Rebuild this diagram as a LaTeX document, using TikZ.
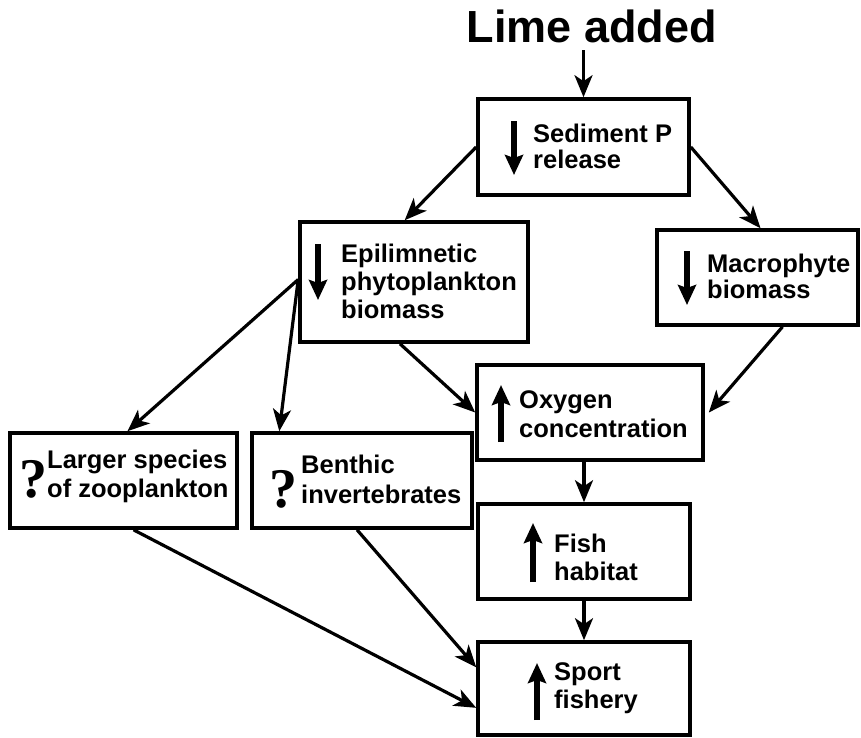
\documentclass[tikz,border=0pt]{standalone}
\usepackage{fontspec}
\setmainfont{Liberation Sans}
\newfontfamily\qfont{Liberation Serif}
\usetikzlibrary{arrows.meta,calc}
\begin{document}
\begin{tikzpicture}[x=1pt,y=-1pt,
  box/.style={draw, line width=3.6pt, inner sep=0pt},
  conn/.style={line width=3.2pt, -{Stealth[length=22pt,width=18pt,inset=6pt]}},
  ind/.style={line width=6pt, -{Stealth[length=20pt,width=18pt,inset=3pt]}},
  lbl/.style={anchor=base west, inner sep=0pt, font=\fontsize{25.5}{28}\selectfont\bfseries},
  qm/.style={anchor=base west, inner sep=0pt, font=\fontsize{56}{56}\selectfont\qfont\bfseries}]
\useasboundingbox (0,0) rectangle (861,737);
\fill[white] (0,0) rectangle (861,737);
% title
\node[anchor=base, inner sep=0pt, font=\fontsize{45}{48}\selectfont\bfseries] (title) at (592,42) {Lime added};
% boxes
\node[box, minimum width=211pt, minimum height=96pt] (sed) at (583.5,147) {};
\node[box, minimum width=228pt, minimum height=120pt] (epi) at (414,282) {};
\node[box, minimum width=201pt, minimum height=95pt] (mac) at (757.5,277.5) {};
\node[box, minimum width=227pt, minimum height=95pt] (lar) at (123.5,480.5) {};
\node[box, minimum width=220pt, minimum height=95pt] (ben) at (362,480.5) {};
\node[box, minimum width=226pt, minimum height=95pt] (oxy) at (590,412.5) {};
\node[box, minimum width=212pt, minimum height=95pt] (fish) at (584,551.5) {};
\node[box, minimum width=212pt, minimum height=93pt] (sport) at (584,688.5) {};
% texts
\node[lbl] (sedA) at (533,142) {Sediment P};
\node[lbl] (sedB) at (533,168) {release};
\node[lbl] (epiA) at (341,262) {Epilimnetic};
\node[lbl] (epiB) at (341,290) {phytoplankton};
\node[lbl] (epiC) at (341,318) {biomass};
\node[lbl] (macA) at (707,272) {Macrophyte};
\node[lbl] (macB) at (707,298) {biomass};
\node[qm] (larQ) at (19,497) {?};
\node[lbl] (larA) at (47,468) {Larger species};
\node[lbl] (larB) at (47,497) {of zooplankton};
\node[qm] (benQ) at (269,507) {?};
\node[lbl] (benA) at (301,473) {Benthic};
\node[lbl] (benB) at (301,503) {invertebrates};
\node[lbl] (oxyA) at (519,408) {Oxygen};
\node[lbl] (oxyB) at (519,437) {concentration};
\node[lbl] (fishA) at (554,552) {Fish};
\node[lbl] (fishB) at (554,580) {habitat};
\node[lbl] (sportA) at (554,680) {Sport};
\node[lbl] (sportB) at (554,708) {fishery};
% indicator arrows
\draw[ind] (514,121) -- (514,175);
\draw[ind] (318,244) -- (318,300);
\draw[ind] (687,251) -- (687,305);
\draw[ind] (501,442) -- (501,385);
\draw[ind] (533,582) -- (533,523);
\draw[ind] (537,720) -- (537,663);
% connectors
\draw[conn] ($(title.base -| sed.north)+(0,8)$) -- (sed.north);
\draw[conn] (sed.west) -- ($(epi.north west)!0.46!(epi.north east)$);
\draw[conn] (sed.east) -- ($(mac.north)+(3,0)$);
\coordinate (epiL) at ($(epi.north west)!0.48!(epi.south west)$);
\draw[conn] (epiL) -- ($(lar.north)+(4,0)$);
\draw[conn] (epiL) -- ($(ben.north west)!0.13!(ben.north east)$);
\draw[conn] ($(epi.south)+(-14,0)$) -- (oxy.west);
\draw[conn] ($(mac.south)+(25,0)$) -- ($(oxy.east)+(4,0)$);
\draw[conn] (oxy.south -| fish.north) -- (fish.north);
\draw[conn] (fish.south) -- (sport.north);
\draw[conn] ($(lar.south)+(10,0)$) -- ($(sport.north west)!0.7!(sport.south west)$);
\draw[conn] ($(ben.south)+(-5,0)$) -- ($(sport.north west)!0.28!(sport.south west)$);
\end{tikzpicture}
\end{document}
